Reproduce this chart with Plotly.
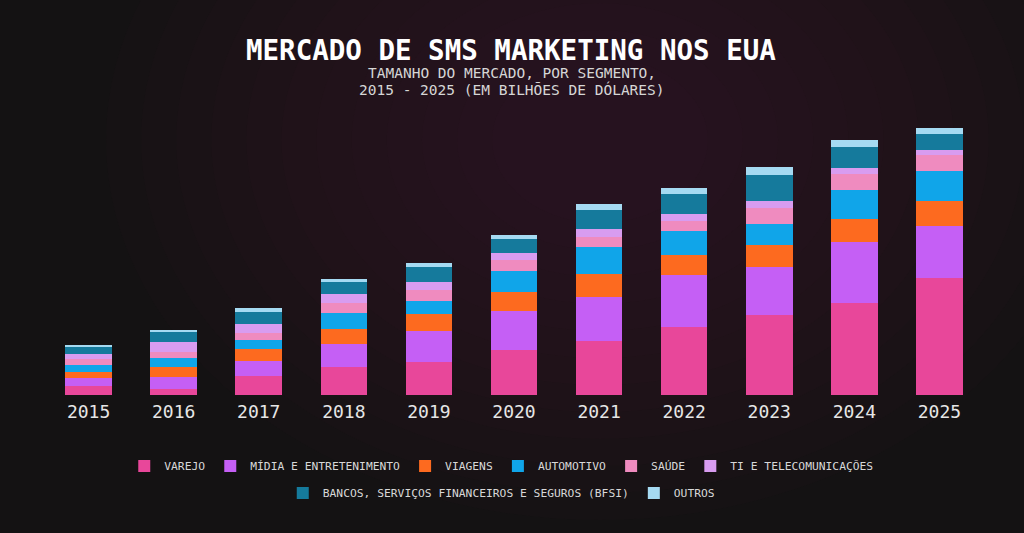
import plotly.graph_objects as go

years = ["2015", "2016", "2017", "2018", "2019", "2020", "2021", "2022", "2023", "2024", "2025"]

varejo = [0.47, 0.32, 0.97, 1.38, 1.65, 2.23, 2.70, 3.40, 3.98, 4.60, 5.85]
midia = [0.40, 0.60, 0.73, 1.18, 1.55, 1.95, 2.18, 2.58, 2.40, 3.05, 2.62]
viagens = [0.30, 0.47, 0.58, 0.72, 0.83, 0.97, 1.15, 1.00, 1.13, 1.13, 1.23]
automotivo = [0.32, 0.48, 0.48, 0.80, 0.68, 1.03, 1.35, 1.20, 1.03, 1.47, 1.50]
saude = [0.30, 0.30, 0.32, 0.53, 0.53, 0.55, 0.53, 0.53, 0.82, 0.80, 0.82]
ti_telecom = [0.28, 0.48, 0.48, 0.43, 0.43, 0.38, 0.37, 0.33, 0.33, 0.28, 0.25]
bfsi = [0.33, 0.48, 0.60, 0.60, 0.73, 0.67, 0.95, 1.03, 1.33, 1.08, 0.77]
outros = [0.08, 0.13, 0.17, 0.18, 0.22, 0.23, 0.30, 0.30, 0.38, 0.33, 0.32]

series_names = ["VAREJO", "MÍDIA E ENTRETENIMENTO", "VIAGENS", "AUTOMOTIVO", "SAÚDE",
                "TI E TELECOMUNICAÇÕES", "BANCOS, SERVIÇOS FINANCEIROS E SEGUROS (BFSI)", "OUTROS"]
series_values = [varejo, midia, viagens, automotivo, saude, ti_telecom, bfsi, outros]
series_colors = ["#e8479a", "#c55ff5", "#fd6a1f", "#10a5e9", "#ef8bbf", "#d89cf0", "#157a9c", "#a5daf2"]
series_legend = ["legend", "legend", "legend", "legend", "legend", "legend", "legend2", "legend2"]

MONO = "DejaVu Sans Mono"

fig = go.Figure()
for name, vals, col, lg in zip(series_names, series_values, series_colors, series_legend):
    fig.add_trace(go.Bar(
        x=years, y=vals, name=name, legend=lg,
        marker=dict(color=col, line=dict(width=0)),
    ))

# plot-area geometry helpers (for background glow shapes)
L, R, T, B = 46, 982, 120, 395
W, H = R - L, B - T


def px_to_paper_x(px):
    return (px - L) / W


def px_to_paper_y(py):
    return (B - py) / H


shapes = []
cx, cy = 600, 140
for i in range(12):
    r = 380 - i * 27
    shapes.append(dict(
        type="circle", xref="paper", yref="paper", layer="below",
        x0=px_to_paper_x(cx - r * 1.3), x1=px_to_paper_x(cx + r * 1.3),
        y0=px_to_paper_y(cy + r), y1=px_to_paper_y(cy - r),
        fillcolor="rgba(58,28,40,0.065)", line=dict(width=0),
    ))

fig.update_layout(
    width=1024, height=533,
    barmode="stack", bargap=0.453,
    paper_bgcolor="#141213", plot_bgcolor="rgba(0,0,0,0)",
    margin=dict(l=L, r=1024 - R, t=T, b=533 - B),
    font=dict(family=MONO, color="#e0e0e0"),
    shapes=shapes,
    xaxis=dict(showgrid=False, zeroline=False, showline=False, ticks="",
               ticklabelstandoff=4,
               tickfont=dict(family=MONO, size=18, color="#e6e6e6")),
    yaxis=dict(range=[0, H / 20], showgrid=False, zeroline=False, showline=False,
               showticklabels=False),
    legend=dict(orientation="h", xref="container", yref="container",
                x=0.49, y=1 - 466 / 533, xanchor="center", yanchor="middle",
                font=dict(family=MONO, size=11.3, color="#d8d8d8"),
                bgcolor="rgba(0,0,0,0)", traceorder="normal"),
    legend2=dict(orientation="h", xref="container", yref="container",
                 x=0.49, y=1 - 493 / 533, xanchor="center", yanchor="middle",
                 font=dict(family=MONO, size=11.3, color="#d8d8d8"),
                 bgcolor="rgba(0,0,0,0)", traceorder="normal"),
    annotations=[
        dict(text="<b>MERCADO DE SMS MARKETING NOS EUA</b>", xref="paper", yref="paper",
             x=px_to_paper_x(511), y=px_to_paper_y(50), xanchor="center", yanchor="middle",
             showarrow=False, font=dict(family=MONO, size=27.5, color="#ffffff")),
        dict(text="TAMANHO DO MERCADO, POR SEGMENTO,", xref="paper", yref="paper",
             x=px_to_paper_x(512), y=px_to_paper_y(73), xanchor="center", yanchor="middle",
             showarrow=False, font=dict(family=MONO, size=14.5, color="#d6d6d6")),
        dict(text="2015 - 2025 (EM BILHÕES DE DÓLARES)", xref="paper", yref="paper",
             x=px_to_paper_x(512), y=px_to_paper_y(90), xanchor="center", yanchor="middle",
             showarrow=False, font=dict(family=MONO, size=14.5, color="#d6d6d6")),
    ],
)

fig.write_html(
    "out.html",
    config={"displayModeBar": False},
    post_script="document.body.style.margin='0';document.body.style.background='#141213';",
)
